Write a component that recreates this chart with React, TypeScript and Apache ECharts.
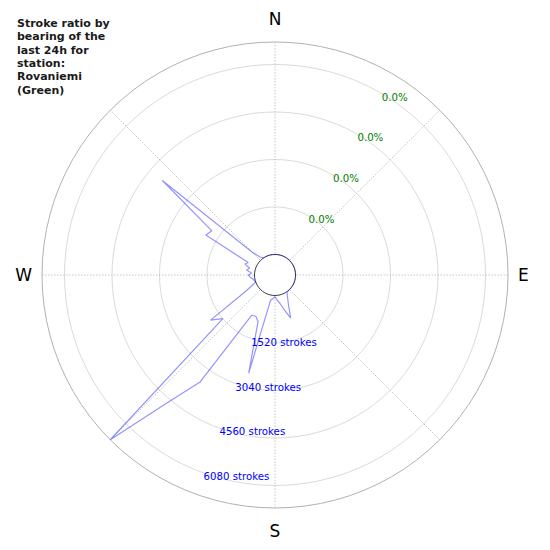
import React, { useEffect, useRef } from "react";
import * as echarts from "echarts";

const bearings = [
  0, 5, 10, 15, 20, 25, 30, 35, 40, 45, 50, 55, 60, 65, 70, 75, 80, 85,
  90, 95, 100, 105, 110, 115, 120, 125, 130, 135, 140, 145, 150, 155, 160, 165, 170, 175,
  180, 185, 190, 195, 200, 205, 210, 215, 220, 225, 230, 235, 240, 245, 250, 255, 260, 265,
  270, 275, 280, 285, 290, 295, 300, 305, 310, 315, 320, 325, 330, 335, 340, 345, 350, 355,
];
const strokeCounts = [
  0, 0, 0, 0, 0, 0, 0, 0, 0, 0, 0, 0, 0, 0, 0, 0, 0, 0,
  0, 0, 0, 0, 0, 0, 0, 0, 0, 0, 0, 10, 140, 350, 810, 500, 270, 150,
  40, 110, 160, 2600, 930, 800, 830, 3520, 4650, 6800, 1520, 1860, 525, 160, 0, 30, 60, 140,
  200, 95, 270, 185, 365, 290, 1900, 1810, 4050, 400, 95, 20, 0, 0, 0, 0, 0, 0,
];
const strokeTicks = [1520, 3040, 4560, 6080];
const ratioLabels = ["0.0%", "0.0%", "0.0%", "0.0%"];
const compassAngles = [0, 90, 180, 270];
const compassLabels = ["N", "E", "S", "W"];
const titleLines = ["Stroke ratio by", "bearing of the", "last 24h for", "station:", "Rovaniemi", "(Green)"];

const FONT = "DejaVu Sans";

export default function App() {
  const ref = useRef<HTMLDivElement>(null);
  useEffect(() => {
    if (!ref.current) return;
    const chart = echarts.init(ref.current, undefined, { renderer: "svg" });
    const maxVal = Math.max(...strokeCounts);
    const lineData = bearings.map((b, i) => [strokeCounts[i], b]);
    lineData.push([strokeCounts[0], 360]);

    const labelRadiusAxis = (polarIndex: number, fmt: (v: number) => string, color: string) => ({
      polarIndex,
      type: "value",
      min: 0,
      max: maxVal,
      interval: 1520,
      axisLine: { show: false },
      axisTick: { show: false },
      splitLine: { show: false },
      axisLabel: {
        show: true,
        margin: 0,
        align: "left",
        verticalAlign: "middle",
        color,
        fontSize: 10.2,
        fontFamily: FONT,
        formatter: fmt,
      },
      z: 10,
    });

    chart.setOption({
      animation: false,
      textStyle: { fontFamily: FONT },
      title: {
        text: titleLines.join("\n"),
        left: 12,
        top: 12,
        textStyle: { fontSize: 11, fontWeight: "bold", lineHeight: 13.3, color: "#1a1a1a", fontFamily: FONT },
      },
      polar: [
        { center: [275, 275], radius: [20.5, 233] },
        { center: [275, 275], radius: [24, 236.5] },
        { center: [275, 275], radius: [17.5, 230] },
      ],
      angleAxis: [
        {
          polarIndex: 0,
          type: "value",
          min: 0,
          max: 360,
          interval: 45,
          startAngle: 90,
          clockwise: true,
          axisLine: { show: false },
          axisTick: { show: false },
          splitLine: { show: true, lineStyle: { color: "#b8b8b8", type: [1.5, 1.5], width: 0.8 } },
          axisLabel: {
            margin: 10,
            fontSize: 17,
            lineHeight: 26,
            color: "#000",
            fontFamily: FONT,
            formatter: (v: number) => {
              const k = compassAngles.indexOf(v);
              return k >= 0 ? compassLabels[k] : "";
            },
          },
        },
        { polarIndex: 1, type: "value", min: 0, max: 360, startAngle: 250.5, show: false },
        { polarIndex: 2, type: "value", min: 0, max: 360, startAngle: 59, show: false },
      ],
      radiusAxis: [
        {
          polarIndex: 0,
          type: "value",
          min: 0,
          max: maxVal,
          interval: 1520,
          axisLine: { show: false },
          axisTick: { show: false },
          axisLabel: { show: false },
          splitLine: {
            show: true,
            lineStyle: {
              color: ["#222222", "#d6d6d6", "#d6d6d6", "#d6d6d6", "#d6d6d6", "#a8a8a8"],
              width: 0.9,
            },
          },
        },
        labelRadiusAxis(1, (v: number) => {
          const k = strokeTicks.indexOf(v);
          return k >= 0 ? `${strokeTicks[k]} strokes` : "";
        }, "#0000ff"),
        labelRadiusAxis(2, (v: number) => {
          const k = strokeTicks.indexOf(v);
          return k >= 0 ? ratioLabels[k] : "";
        }, "#008000"),
      ],
      series: [
        {
          type: "line",
          coordinateSystem: "polar",
          polarIndex: 0,
          data: lineData,
          symbol: "none",
          lineStyle: { color: "rgba(0,0,255,0.42)", width: 1.2 },
        },
      ],
    });
    return () => chart.dispose();
  }, []);
  return <div ref={ref} style={{ position: "absolute", left: 0, top: 0, width: 550, height: 550 }} />;
}
